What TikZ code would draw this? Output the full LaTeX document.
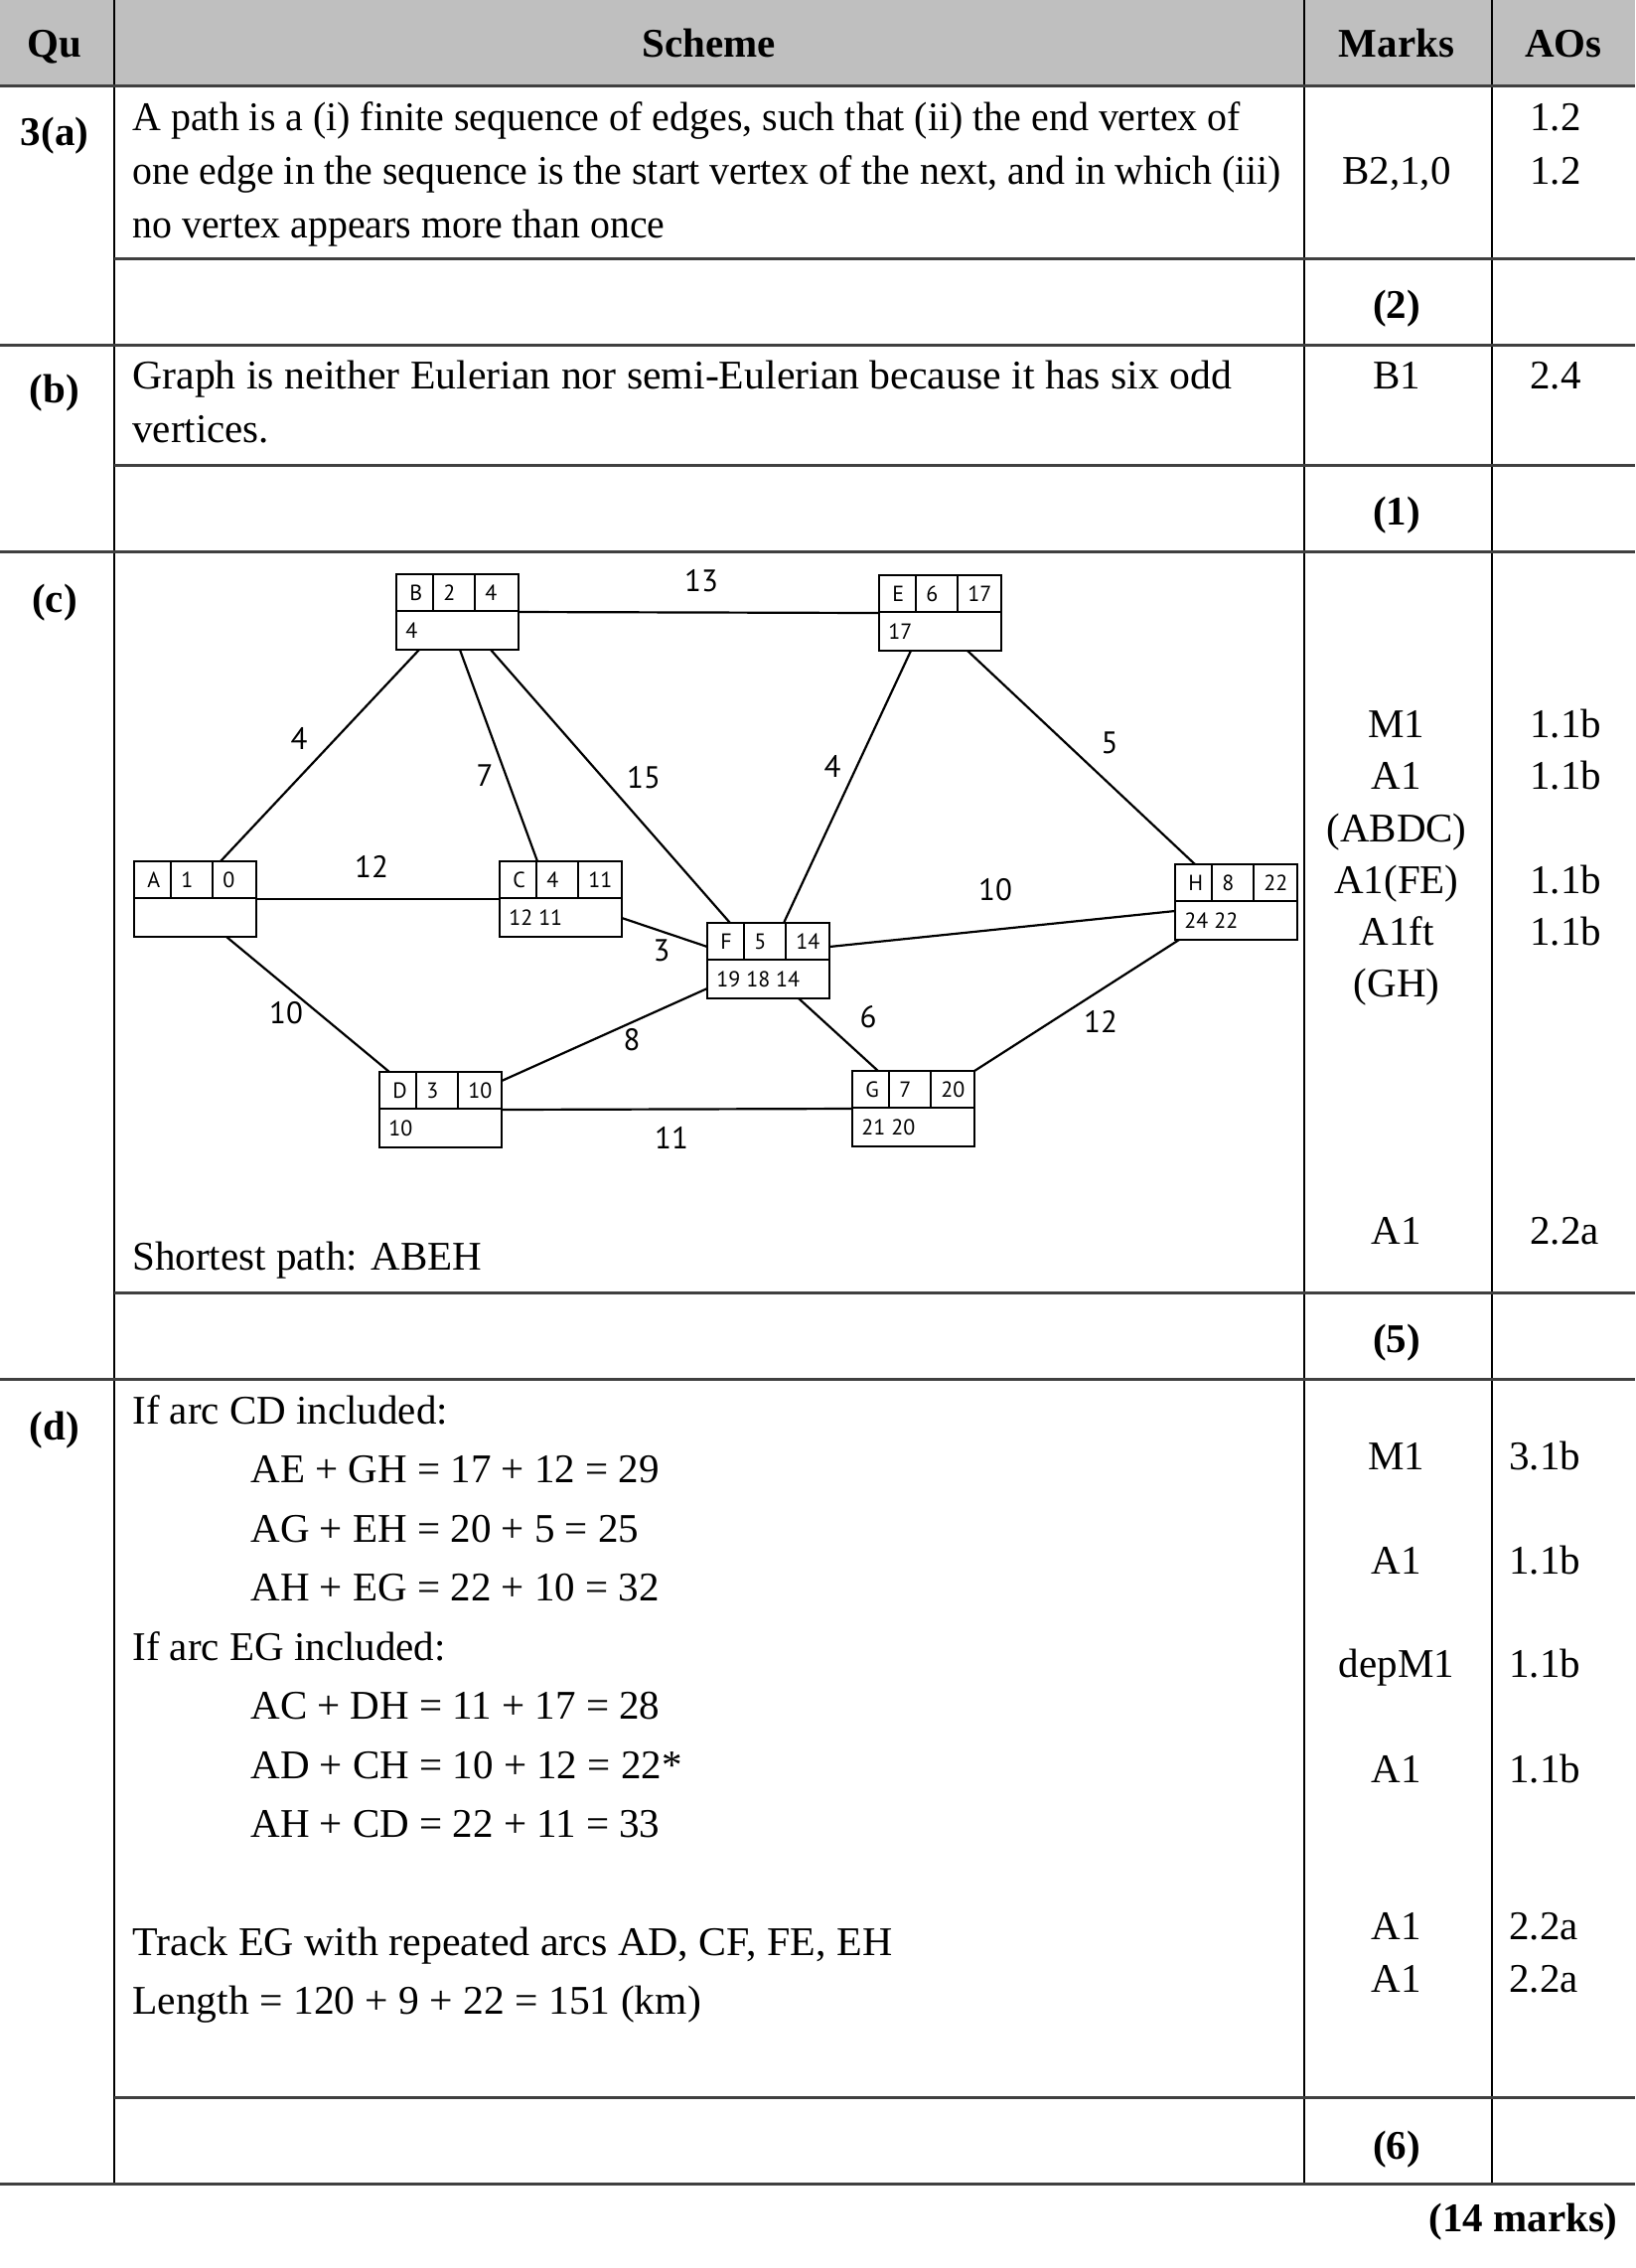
\documentclass[tikz,border=0pt]{standalone}
\usepackage{graphicx}
\usepackage{fontspec}
\setmainfont{Liberation Serif}
\newfontfamily\gsans{PT Sans}
\usetikzlibrary{calc}
\newcommand\netbox[7]{%
  \node[nbox] (#1) at (#2,#3) {};
  \draw[divl] ($(#1.north west)+(0,37)$) -- ($(#1.north east)+(0,37)$);
  \draw[divl] ($(#1.north west)+(37,0)$) -- ($(#1.north west)+(37,37)$);
  \draw[divl] ($(#1.north west)+(79,0)$) -- ($(#1.north west)+(79,37)$);
  \node[bxt] (#1l) at ($(#1.north west)+(13,19)$) {#4};
  \node[bxt] (#1a) at ($(#1.north west)+(47,19)$) {#5};
  \node[bxt] (#1b) at ($(#1.north west)+(89,19)$) {#6};
  \node[bxt] (#1c) at ($(#1.north west)+(9,57)$) {#7};
}
\begin{document}
\begin{tikzpicture}[x=0.5pt,y=-0.5pt,
  txt/.style={inner sep=0pt, anchor=base west, font=\fontsize{20.5pt}{25pt}\selectfont},
  ctxt/.style={txt, anchor=base},
  btxt/.style={inner sep=0pt, anchor=base, font=\fontsize{20.5pt}{25pt}\selectfont\bfseries},
  rowline/.style={line width=1.5pt, draw=black!75},
  colline/.style={line width=0.8pt, draw=black},
  nbox/.style={draw, line width=1.3pt, anchor=north west, minimum width=61.5pt, minimum height=38pt, inner sep=0pt, outer sep=0pt},
  divl/.style={line width=0.9pt},
  bxt/.style={inner sep=0pt, anchor=west, font=\gsans\fontsize{11pt}{13pt}\selectfont},
  wt/.style={inner sep=0pt, font=\gsans\fontsize{15.5pt}{18pt}\selectfont},
  edge/.style={line width=1.1pt}
]
\useasboundingbox (0,0) rectangle (1646,2283);
\fill[white] (0,0) rectangle (1646,2283);
% header
\fill[black!25] (0,0) rectangle (1646,86);
% table lines
\draw[colline] (115,0) -- (115,2198);
\draw[colline] (1313,0) -- (1313,2198);
\draw[colline] (1502,0) -- (1502,2198);
\foreach \yy in {86,347,555,1388,2198} \draw[rowline] (0,\yy) -- (1646,\yy);
\foreach \yy in {260,468,1301,2111} \draw[rowline] (115,\yy) -- (1646,\yy);
% header text
\node[btxt] (hQu) at (55,57) {Qu};
\node[btxt] (hSc) at (714,57) {Scheme};
\node[btxt] (hMk) at (1406,57) {Marks};
\node[btxt] (hAO) at (1574,57) {AOs};
% (a)
\node[btxt] (qa) at (55,146) {3(a)};
\node[txt] (a1) at (133,131) {\scalebox{0.974}[1]{A path is a (i) finite sequence of edges, such that (ii) the end vertex of}};
\node[txt] (a2) at (133,185) {\scalebox{0.971}[1]{one edge in the sequence is the start vertex of the next, and in which (iii)}};
\node[txt] (a3) at (133,239) {\scalebox{0.971}[1]{no vertex appears more than once}};
\node[ctxt] (ma) at (1406,185) {B2,1,0};
\node[txt] (aoa1) at (1540,131) {1.2};
\node[txt] (aoa2) at (1540,185) {1.2};
\node[btxt] (mta) at (1406,320) {(2)};
% (b)
\node[btxt] (qb) at (55,405) {(b)};
\node[txt] (b1) at (133,391) {\scalebox{1.019}[1]{Graph is neither Eulerian nor semi-Eulerian because it has six odd}};
\node[txt] (b2) at (133,445) {vertices.};
\node[ctxt] (mb) at (1406,391) {B1};
\node[txt] (aob) at (1540,391) {2.4};
\node[btxt] (mtb) at (1406,528) {(1)};
% (c)
\node[btxt] (qc) at (55,616) {(c)};
\node[ctxt] (mc1) at (1406,742) {M1};
\node[ctxt] (mc2) at (1406,794) {A1};
\node[ctxt] (mc3) at (1406,847) {(ABDC)};
\node[ctxt] (mc4) at (1406,899) {A1(FE)};
\node[ctxt] (mc5) at (1406,951) {A1ft};
\node[ctxt] (mc6) at (1406,1003) {(GH)};
\node[txt] (aoc1) at (1540,742) {1.1b};
\node[txt] (aoc2) at (1540,794) {1.1b};
\node[txt] (aoc3) at (1540,899) {1.1b};
\node[txt] (aoc4) at (1540,951) {1.1b};
\node[ctxt] (mc7) at (1406,1252) {A1};
\node[txt] (aoc5) at (1540,1252) {2.2a};
\node[txt] (sp) at (133,1278) {Shortest path: ABEH};
\node[btxt] (mtc) at (1406,1361) {(5)};
% (d)
\node[btxt] (qd) at (55,1449) {(d)};
\node[txt] (d1) at (133,1433) {If arc CD included:};
\node[txt] (d2) at (252,1492) {AE + GH = 17 + 12 = 29};
\node[txt] (d3) at (252,1552) {AG + EH = 20 + 5 = 25};
\node[txt] (d4) at (252,1611) {AH + EG = 22 + 10 = 32};
\node[txt] (d5) at (133,1671) {If arc EG included:};
\node[txt] (d6) at (252,1730) {AC + DH = 11 + 17 = 28};
\node[txt] (d7) at (252,1790) {AD + CH = 10 + 12 = 22*};
\node[txt] (d8) at (252,1849) {AH + CD = 22 + 11 = 33};
\node[txt] (d9) at (133,1968) {\scalebox{1.023}[1]{Track EG with repeated arcs AD, CF, FE, EH}};
\node[txt] (d10) at (133,2027) {\scalebox{1.013}[1]{Length = 120 + 9 + 22 = 151 (km)}};
\node[ctxt] (md1) at (1406,1479) {M1};
\node[ctxt] (md2) at (1406,1584) {A1};
\node[ctxt] (md3) at (1406,1688) {depM1};
\node[ctxt] (md4) at (1406,1794) {A1};
\node[ctxt] (md5) at (1406,1952) {A1};
\node[ctxt] (md6) at (1406,2005) {A1};
\node[txt] (aod1) at (1519,1479) {3.1b};
\node[txt] (aod2) at (1519,1584) {1.1b};
\node[txt] (aod3) at (1519,1688) {1.1b};
\node[txt] (aod4) at (1519,1794) {1.1b};
\node[txt] (aod5) at (1519,1952) {2.2a};
\node[txt] (aod6) at (1519,2005) {2.2a};
\node[btxt] (mtd) at (1406,2173) {(6)};
\node[btxt, anchor=base east] (tot) at (1629,2246) {(14 marks)};
% network boxes
\netbox{A}{135}{867}{A}{1}{0}{}
\netbox{B}{399}{578}{B}{2}{4}{4}
\netbox{C}{503}{867}{C}{4}{11}{12 11}
\netbox{D}{382}{1079}{D}{3}{10}{10}
\netbox{E}{885}{579}{E}{6}{17}{17}
\netbox{F}{712}{929}{F}{5}{14}{19 18 14}
\netbox{G}{858}{1078}{G}{7}{20}{21 20}
\netbox{H}{1183}{870}{H}{8}{22}{24 22}
% edges
\draw[edge] ($(A.north west)+(87,0)$) -- ($(B.south west)+(23,0)$);
\draw[edge] ($(B.south west)+(64,0)$) -- ($(C.north west)+(38,0)$);
\draw[edge] ($(B.south west)+(95,0)$) -- ($(F.north west)+(23,0)$);
\draw[edge] (B.east) -- (E.west);
\draw[edge] (A.east) -- (C.west);
\draw[edge] ($(C.north east)+(0,57)$) -- ($(F.north west)+(0,24)$);
\draw[edge] ($(A.south west)+(93,0)$) -- ($(D.north west)+(10,0)$);
\draw[edge] ($(D.north east)+(0,9)$) -- ($(F.north west)+(0,66)$);
\draw[edge] (D.east) -- (G.west);
\draw[edge] ($(E.south west)+(32,0)$) -- ($(F.north west)+(77,0)$);
\draw[edge] ($(E.south west)+(89,0)$) -- ($(H.north west)+(20,0)$);
\draw[edge] ($(F.north east)+(0,24)$) -- ($(H.north west)+(0,47)$);
\draw[edge] ($(F.south west)+(92,0)$) -- ($(G.north west)+(26,0)$);
\draw[edge] (G.north east) -- ($(H.south west)+(4,0)$);
% weights
\node[wt] (w13) at (706,585) {13};
\node[wt] (wAB) at (301,743) {4};
\node[wt] (wBC) at (488,781) {7};
\node[wt] (wBF) at (648,783) {15};
\node[wt] (wAC) at (374,872) {12};
\node[wt] (wCF) at (666,957) {3};
\node[wt] (wAD) at (288,1020) {10};
\node[wt] (wDF) at (636,1047) {8};
\node[wt] (wDG) at (676,1145) {11};
\node[wt] (wEF) at (838,771) {4};
\node[wt] (wEH) at (1117,748) {5};
\node[wt] (wFH) at (1002,896) {10};
\node[wt] (wFG) at (874,1024) {6};
\node[wt] (wGH) at (1108,1028) {12};
\end{tikzpicture}
\end{document}
